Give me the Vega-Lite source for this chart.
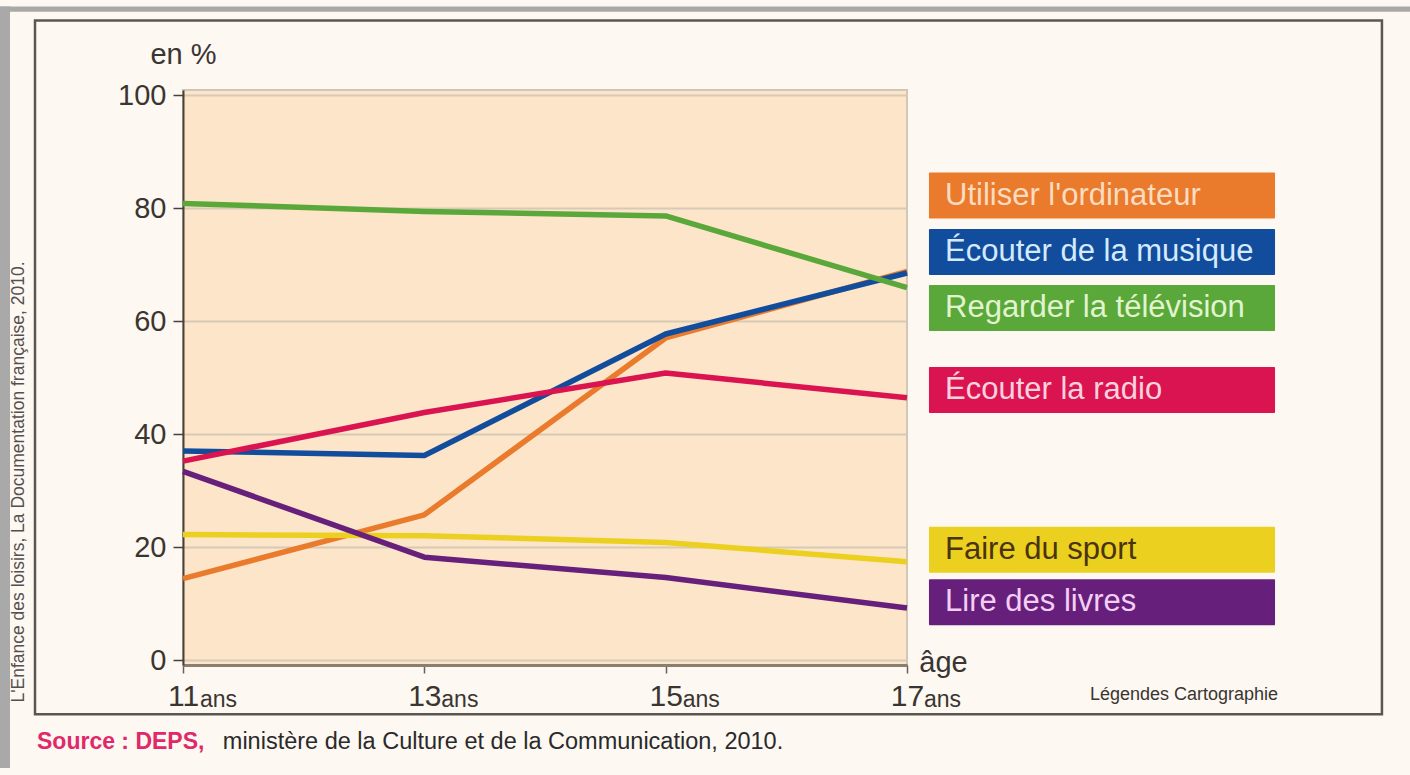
{
  "$schema": "https://vega.github.io/schema/vega-lite/v6.json",
  "width": 724,
  "height": 575,
  "autosize": {"type": "none"},
  "padding": {"left": 183, "top": 90, "right": 503, "bottom": 110},
  "background": "#fdf8f2",
  "config": {
    "font": "Liberation Sans",
    "view": {"stroke": "#d2c6b6", "strokeWidth": 2, "fill": "#fce5c9"}
  },
  "datasets": {
    "series": [
      {"activity": "Utiliser l'ordinateur", "age": 11, "pct": 14.4},
      {"activity": "Utiliser l'ordinateur", "age": 13, "pct": 25.7},
      {"activity": "Utiliser l'ordinateur", "age": 15, "pct": 57},
      {"activity": "Utiliser l'ordinateur", "age": 17, "pct": 68.8},
      {"activity": "Écouter de la musique", "age": 11, "pct": 37},
      {"activity": "Écouter de la musique", "age": 13, "pct": 36.2},
      {"activity": "Écouter de la musique", "age": 15, "pct": 57.7},
      {"activity": "Écouter de la musique", "age": 17, "pct": 68.5},
      {"activity": "Regarder la télévision", "age": 11, "pct": 80.8},
      {"activity": "Regarder la télévision", "age": 13, "pct": 79.4},
      {"activity": "Regarder la télévision", "age": 15, "pct": 78.6},
      {"activity": "Regarder la télévision", "age": 17, "pct": 65.9},
      {"activity": "Écouter la radio", "age": 11, "pct": 35.2},
      {"activity": "Écouter la radio", "age": 13, "pct": 43.8},
      {"activity": "Écouter la radio", "age": 15, "pct": 50.8},
      {"activity": "Écouter la radio", "age": 17, "pct": 46.4},
      {"activity": "Faire du sport", "age": 11, "pct": 22.2},
      {"activity": "Faire du sport", "age": 13, "pct": 22},
      {"activity": "Faire du sport", "age": 15, "pct": 20.8},
      {"activity": "Faire du sport", "age": 17, "pct": 17.4},
      {"activity": "Lire des livres", "age": 11, "pct": 33.4},
      {"activity": "Lire des livres", "age": 13, "pct": 18.2},
      {"activity": "Lire des livres", "age": 15, "pct": 14.6},
      {"activity": "Lire des livres", "age": 17, "pct": 9.2}
    ],
    "legend": [
      {"activity": "Utiliser l'ordinateur", "pos": 82.2},
      {"activity": "Écouter de la musique", "pos": 72.2},
      {"activity": "Regarder la télévision", "pos": 62.3},
      {"activity": "Écouter la radio", "pos": 47.8},
      {"activity": "Faire du sport", "pos": 19.5},
      {"activity": "Lire des livres", "pos": 10.2}
    ],
    "ages": [{"age": 11}, {"age": 13}, {"age": 15}, {"age": 17}],
    "one": [{}]
  },
  "layer": [
    {
      "data": {"name": "one"},
      "mark": {"type": "rect", "fill": "#a9a9a9"},
      "encoding": {
        "x": {"datum": 9.4835, "type": "quantitative", "scale": {"domain": [11, 17], "nice": false, "zero": false}},
        "x2": {"datum": 9.5664},
        "y": {"datum": 115.65, "type": "quantitative", "scale": {"domain": [0, 100], "nice": false, "zero": false}},
        "y2": {"datum": -19.13}
      }
    },
    {
      "data": {"name": "one"},
      "mark": {"type": "rect", "fill": "#a9a9a9"},
      "encoding": {
        "x": {"datum": 9.4835, "type": "quantitative", "scale": {"domain": [11, 17], "nice": false, "zero": false}},
        "x2": {"datum": 21.17},
        "y": {"datum": 115.65, "type": "quantitative", "scale": {"domain": [0, 100], "nice": false, "zero": false}},
        "y2": {"datum": 114.75}
      }
    },
    {
      "data": {"name": "one"},
      "mark": {"type": "rect", "fillOpacity": 0, "stroke": "#5c5650", "strokeWidth": 2.5},
      "encoding": {
        "x": {"datum": 9.7735, "type": "quantitative", "scale": {"domain": [11, 17], "nice": false, "zero": false}},
        "x2": {"datum": 20.936},
        "y": {"datum": 113.2, "type": "quantitative", "scale": {"domain": [0, 100], "nice": false, "zero": false}},
        "y2": {"datum": -9.6}
      }
    },
    {
      "data": {"name": "series"},
      "mark": {"type": "line", "strokeWidth": 5.5, "strokeJoin": "round", "strokeCap": "butt"},
      "encoding": {
        "x": {
          "field": "age", "type": "quantitative",
          "scale": {"domain": [11, 17], "nice": false, "zero": false},
          "axis": {
            "values": [11, 13, 15, 17],
            "grid": false,
            "domainColor": "#8a7e70", "domainWidth": 3,
            "tickColor": "#6a6058", "tickSize": 8, "tickWidth": 1.5,
            "labelFontSize": 30, "labelColor": "#3a3530",
            "labelFlush": false, "labelAlign": "center", "labelOverlap": false,
            "labelBaseline": "alphabetic", "labelPadding": 32, "labelDx": -3,
            "labelExpr": "datum.value",
            "title": "âge", "titleFontSize": 29, "titleFontWeight": "normal", "titleColor": "#3a3530",
            "titleX": 760, "titleY": 6, "titleAlign": "center", "titleBaseline": "alphabetic"
          }
        },
        "y": {
          "field": "pct", "type": "quantitative",
          "scale": {"domain": [0, 100], "nice": false, "zero": false},
          "axis": {
            "values": [0, 20, 40, 60, 80, 100],
            "grid": true, "gridColor": "#d6c9b6", "gridWidth": 2,
            "domainColor": "#4a4038", "domainWidth": 2,
            "tickColor": "#4a4038", "tickSize": 10, "tickWidth": 1.5,
            "labelFontSize": 29, "labelColor": "#3a3530", "labelPadding": 7,
            "title": "en %", "titleAngle": 0, "titleFontSize": 29, "titleFontWeight": "normal", "titleColor": "#3a3530",
            "titleX": 0, "titleY": -36, "titleAlign": "center", "titleBaseline": "middle"
          }
        },
        "color": {
          "field": "activity", "type": "nominal",
          "scale": {
            "domain": ["Utiliser l'ordinateur", "Écouter de la musique", "Regarder la télévision", "Écouter la radio", "Faire du sport", "Lire des livres"],
            "range": ["#ea7a2c", "#114d9c", "#5aa83a", "#da1450", "#ecd020", "#66207c"]
          },
          "legend": null
        },
        "order": {"field": "age", "type": "quantitative"}
      }
    },
    {
      "data": {"name": "ages"},
      "mark": {"type": "text", "text": "ans", "fontSize": 23, "align": "left", "baseline": "alphabetic", "dx": 17, "color": "#3a3530"},
      "encoding": {
        "x": {"field": "age", "type": "quantitative", "scale": {"domain": [11, 17], "nice": false, "zero": false}},
        "y": {"datum": -8.3, "type": "quantitative", "scale": {"domain": [0, 100], "nice": false, "zero": false}}
      }
    },
    {
      "data": {"name": "legend"},
      "mark": {"type": "bar", "height": 46, "cornerRadius": 1},
      "encoding": {
        "x": {"datum": 17.182, "type": "quantitative", "scale": {"domain": [11, 17], "nice": false, "zero": false}},
        "x2": {"datum": 20.05},
        "y": {"field": "pos", "type": "quantitative", "scale": {"domain": [0, 100], "nice": false, "zero": false}},
        "color": {"field": "activity", "type": "nominal", "legend": null}
      }
    },
    {
      "data": {"name": "legend"},
      "mark": {"type": "text", "fontSize": 31, "align": "left", "baseline": "middle"},
      "encoding": {
        "x": {"datum": 17.315, "type": "quantitative", "scale": {"domain": [11, 17], "nice": false, "zero": false}},
        "y": {"field": "pos", "type": "quantitative", "scale": {"domain": [0, 100], "nice": false, "zero": false}},
        "text": {"field": "activity"},
        "fill": {
          "field": "activity", "type": "nominal",
          "scale": {
            "domain": ["Utiliser l'ordinateur", "Écouter de la musique", "Regarder la télévision", "Écouter la radio", "Faire du sport", "Lire des livres"],
            "range": ["#fcdcc0", "#d6eaff", "#e2f4cf", "#fdd2de", "#4a3410", "#f4cff4"]
          },
          "legend": null
        }
      }
    },
    {
      "data": {"name": "one"},
      "mark": {"type": "text", "text": "Légendes Cartographie", "fontSize": 18, "align": "right", "baseline": "middle", "color": "#3a3530"},
      "encoding": {
        "x": {"datum": 20.075, "type": "quantitative", "scale": {"domain": [11, 17], "nice": false, "zero": false}},
        "y": {"datum": -6.2, "type": "quantitative", "scale": {"domain": [0, 100], "nice": false, "zero": false}}
      }
    },
    {
      "data": {"name": "one"},
      "mark": {"type": "text", "text": "L'Enfance des loisirs, La Documentation française, 2010.", "fontSize": 17.5, "angle": 270, "align": "center", "baseline": "middle", "color": "#555050"},
      "encoding": {
        "x": {"datum": 9.64, "type": "quantitative", "scale": {"domain": [11, 17], "nice": false, "zero": false}},
        "y": {"datum": 31.5, "type": "quantitative", "scale": {"domain": [0, 100], "nice": false, "zero": false}}
      }
    },
    {
      "data": {"name": "one"},
      "mark": {"type": "text", "text": "Source : DEPS,", "fontSize": 23, "fontWeight": "bold", "align": "left", "baseline": "middle", "color": "#e0286a"},
      "encoding": {
        "x": {"datum": 9.79, "type": "quantitative", "scale": {"domain": [11, 17], "nice": false, "zero": false}},
        "y": {"datum": -14.6, "type": "quantitative", "scale": {"domain": [0, 100], "nice": false, "zero": false}}
      }
    },
    {
      "data": {"name": "one"},
      "mark": {"type": "text", "text": "ministère de la Culture et de la Communication, 2010.", "fontSize": 23.5, "align": "left", "baseline": "middle", "color": "#2a2a2a"},
      "encoding": {
        "x": {"datum": 11.33, "type": "quantitative", "scale": {"domain": [11, 17], "nice": false, "zero": false}},
        "y": {"datum": -14.6, "type": "quantitative", "scale": {"domain": [0, 100], "nice": false, "zero": false}}
      }
    }
  ]
}
